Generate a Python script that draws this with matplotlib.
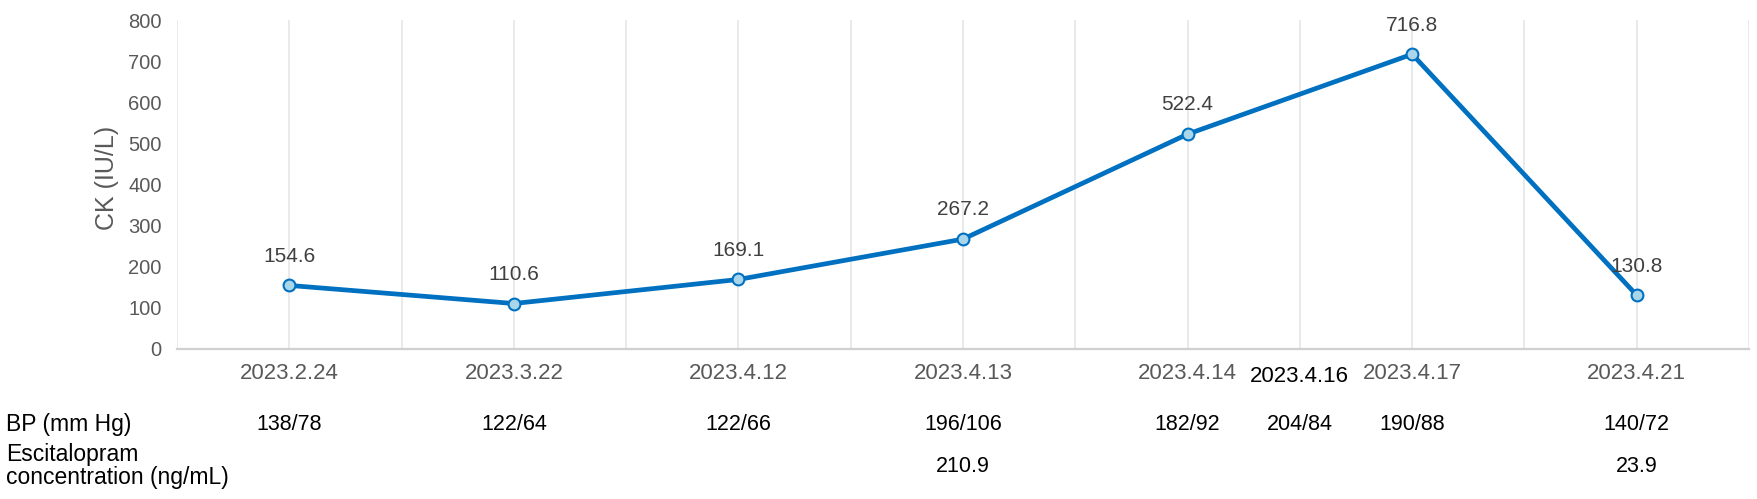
import matplotlib
matplotlib.use("Agg")
import matplotlib.pyplot as plt
import matplotlib.transforms as mtransforms
from matplotlib.ticker import MultipleLocator

plt.rcParams['font.family'] = ['Liberation Sans', 'DejaVu Sans']

# ---- data ----
dates = ['2023.2.24', '2023.3.22', '2023.4.12', '2023.4.13', '2023.4.14', '2023.4.17', '2023.4.21']
ck = [154.6, 110.6, 169.1, 267.2, 522.4, 716.8, 130.8]
bp_values = ['138/78', '122/64', '122/66', '196/106', '182/92', '190/88', '140/72']
escitalopram = ['', '', '', '210.9', '', '', '23.9']
# extra date without a CK value, between 2023.4.14 and 2023.4.17
extra_date = '2023.4.16'
extra_bp = '204/84'
extra_after = '2023.4.14'

row_labels = ['BP (mm Hg)', 'Escitalopram\nconcentration (ng/mL)']

W, H = 1757, 499
fig = plt.figure(figsize=(W / 100, H / 100), dpi=100)
ax = fig.add_axes([177 / W, 1 - 349 / H, (1749 - 177) / W, (349 - 20) / H])

x = list(range(len(dates)))
line_color = '#0070C0'
ax.plot(x, ck, color=line_color, lw=3.4, marker='o', markersize=8.5,
        markerfacecolor='#A9D6EA', markeredgecolor=line_color, markeredgewidth=1.5,
        zorder=3, solid_capstyle='round')

for xi, v in zip(x, ck):
    ax.annotate(f'{v:.1f}', (xi, v), xytext=(0, 21), textcoords='offset points',
                ha='center', va='center', fontsize=15, color='#404040')

ax.set_xlim(-0.5, len(dates) - 0.5)
ax.set_ylim(0, 800)
ax.yaxis.set_major_locator(MultipleLocator(100))
ax.set_xticks(x)
ax.set_xticklabels(dates, fontsize=16, color='#595959')
ax.tick_params(axis='x', length=0, pad=10)
ax.tick_params(axis='y', length=0, pad=11, labelsize=14.5, labelcolor='#595959')
ax.set_xticks([i - 0.5 for i in range(len(dates) + 1)], minor=True)
ax.tick_params(axis='x', which='minor', length=0)
ax.grid(axis='x', which='both', color='#E6E6E6', lw=1.2, zorder=0)
ax.grid(axis='y', visible=False)
for s in ['left', 'right', 'top']:
    ax.spines[s].set_visible(False)
ax.spines['bottom'].set_color('#D0D0D0')
ax.spines['bottom'].set_linewidth(1.6)
ax.set_ylabel('CK (IU/L)', fontsize=18, color='#595959')
ax.yaxis.set_label_coords(-0.037, 0.52)

# extra date label on the axis row and the table rows below
tr = mtransforms.blended_transform_factory(ax.transData, fig.transFigure)
ix = dates.index(extra_after)
xe = (x[ix] + x[ix + 1]) / 2
ax.text(xe, 1 - 377 / H, extra_date, transform=tr, ha='center', va='center',
        fontsize=16, color='black')

y_bp = 1 - 424 / H
y_esc = 1 - 466 / H
for xi, b, e in zip(x, bp_values, escitalopram):
    ax.text(xi, y_bp, b, transform=tr, ha='center', va='center', fontsize=15.5, color='black')
    if e:
        ax.text(xi, y_esc, e, transform=tr, ha='center', va='center', fontsize=15.5, color='black')
ax.text(xe, y_bp, extra_bp, transform=tr, ha='center', va='center', fontsize=15.5, color='black')

fig.text(6 / W, y_bp, row_labels[0], ha='left', va='center', fontsize=16.5, color='black')
fig.text(6 / W, y_esc, row_labels[1], ha='left', va='center', fontsize=16.5, color='black',
         linespacing=1.02)

fig.savefig('out.png', dpi=100, facecolor='white')
